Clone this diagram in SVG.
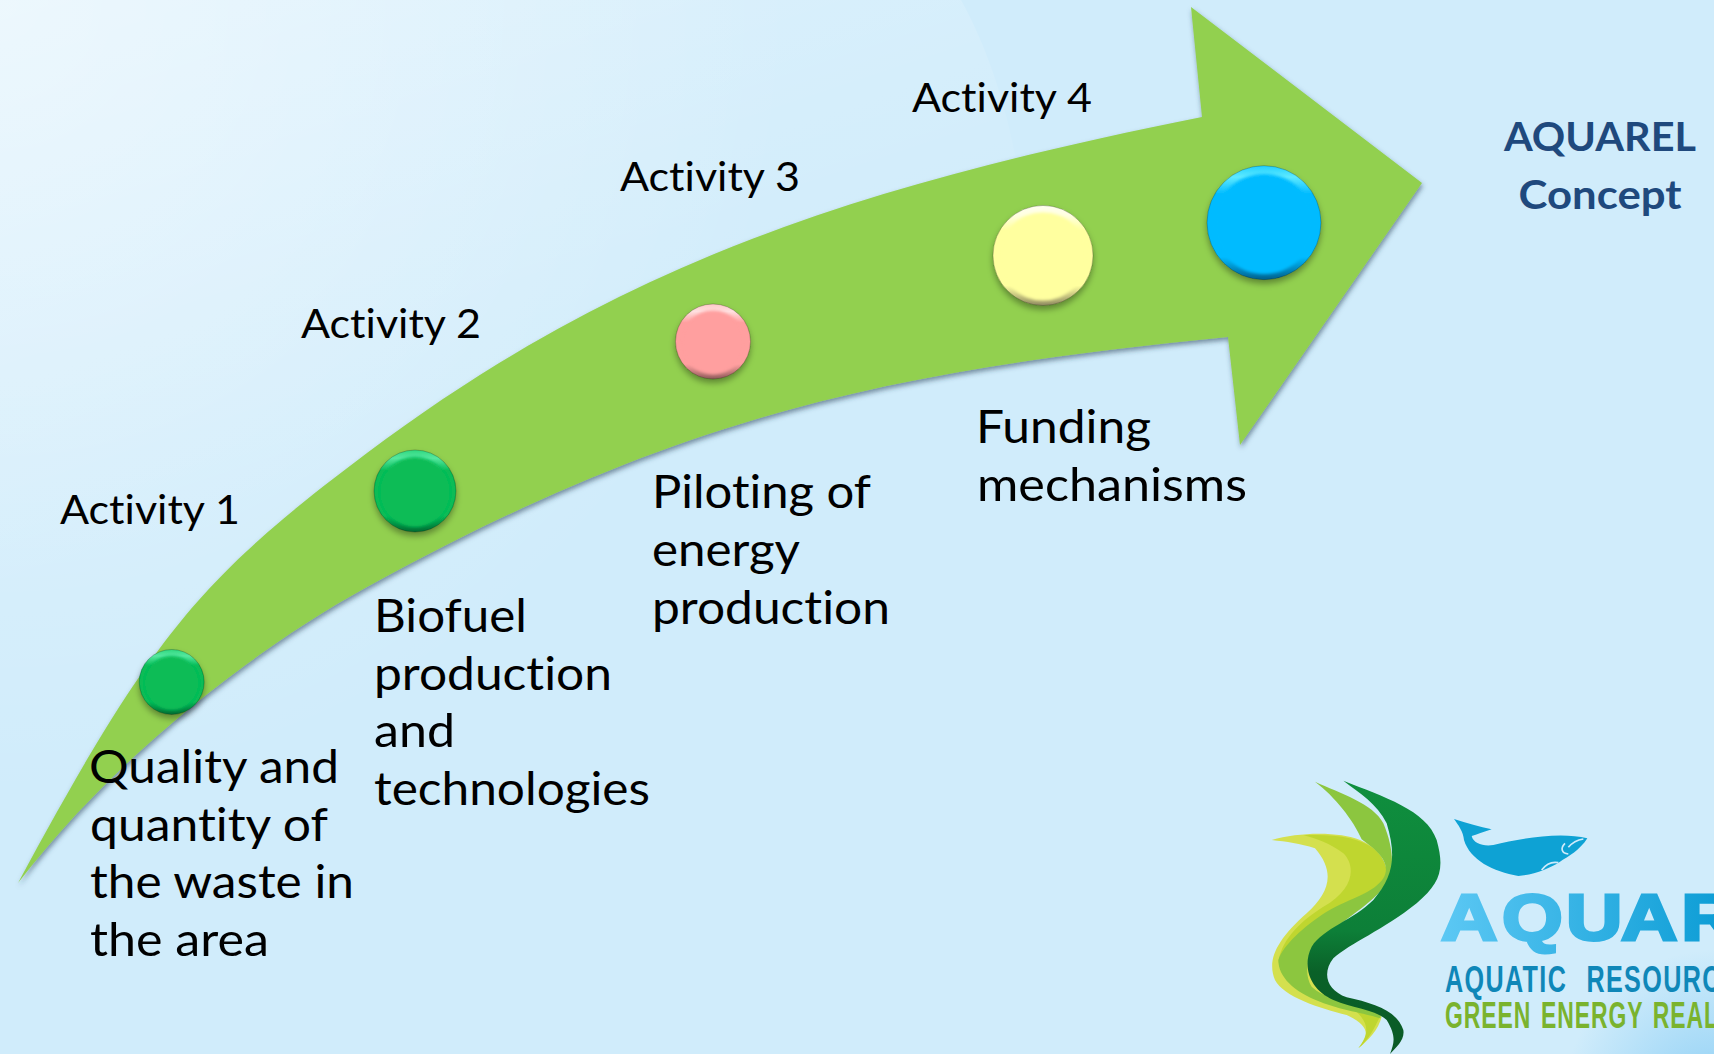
<svg xmlns="http://www.w3.org/2000/svg" width="1714" height="1054" viewBox="0 0 1714 1054">
<style>
.t{font-family:"Lato","Carlito","Liberation Sans",sans-serif;fill:#000;font-variant-ligatures:none}
.big{font-size:46px}
.act{font-size:40.5px}
.head{font-family:"Lato","Liberation Sans",sans-serif;font-weight:700;font-size:41px;fill:#1f497d;text-anchor:middle}
.rim{stroke:#000;stroke-opacity:.22;stroke-width:1}
.logo-t{font-family:"Liberation Sans",sans-serif;font-weight:700}
</style>
<defs>
<linearGradient id="ov1" gradientUnits="userSpaceOnUse" x1="0" y1="0" x2="300" y2="900">
<stop offset="0" stop-color="#fff" stop-opacity=".3"/><stop offset=".6" stop-color="#fff" stop-opacity="0"/>
</linearGradient>
<radialGradient id="ov2" gradientUnits="userSpaceOnUse" cx="0" cy="0" r="800">
<stop offset="0" stop-color="#fff" stop-opacity=".45"/><stop offset="1" stop-color="#fff" stop-opacity="0"/>
</radialGradient>
<radialGradient id="ov3" gradientUnits="userSpaceOnUse" cx="1714" cy="1100" r="150">
<stop offset="0" stop-color="#8fd0f5"/><stop offset="1" stop-color="#8fd0f5" stop-opacity="0"/>
</radialGradient>
<filter id="sh" x="-5%" y="-5%" width="110%" height="110%"><feDropShadow dx="1" dy="3" stdDeviation="2.5" flood-color="#2a3f55" flood-opacity=".55"/></filter>
<filter id="csh" x="-30%" y="-30%" width="160%" height="160%"><feDropShadow dx="0" dy="4" stdDeviation="3" flood-color="#000" flood-opacity=".35"/></filter>
<filter id="soft" x="-20%" y="-20%" width="140%" height="140%"><feGaussianBlur stdDeviation="1.6"/></filter>
<linearGradient id="rg" x1="0" y1="0" x2="0" y2="1"><stop offset="0" stop-color="#2fd87f"/><stop offset=".1" stop-color="#55e8a0"/><stop offset=".25" stop-color="#07bc57"/><stop offset=".8" stop-color="#07bc57"/><stop offset="1" stop-color="#046b32"/></linearGradient>
<linearGradient id="rp" x1="0" y1="0" x2="0" y2="1"><stop offset="0" stop-color="#ffc8c8"/><stop offset=".1" stop-color="#ffe0e0"/><stop offset=".25" stop-color="#ff9f9f"/><stop offset=".8" stop-color="#ff9f9f"/><stop offset="1" stop-color="#8f5a5a"/></linearGradient>
<linearGradient id="ry" x1="0" y1="0" x2="0" y2="1"><stop offset="0" stop-color="#fffff0"/><stop offset=".1" stop-color="#ffffe0"/><stop offset=".25" stop-color="#ffff9f"/><stop offset=".8" stop-color="#ffff9f"/><stop offset="1" stop-color="#8f8a60"/></linearGradient>
<linearGradient id="rb" x1="0" y1="0" x2="0" y2="1"><stop offset="0" stop-color="#20d0ff"/><stop offset=".1" stop-color="#5feaff"/><stop offset=".25" stop-color="#00bbff"/><stop offset=".8" stop-color="#00bbff"/><stop offset="1" stop-color="#00608c"/></linearGradient>
<linearGradient id="aq" gradientUnits="userSpaceOnUse" x1="0" y1="0" x2="224" y2="0"><stop offset="0" stop-color="#5cc8f4"/><stop offset="1" stop-color="#0f9ed6"/></linearGradient>
<linearGradient id="lf" x1="0" y1="0" x2="0" y2="1"><stop offset="0" stop-color="#0f8f3e"/><stop offset=".55" stop-color="#0d7f38"/><stop offset=".7" stop-color="#0a6128"/><stop offset="1" stop-color="#0a5a26"/></linearGradient>
</defs>
<g id="background">
<rect width="1714" height="1054" fill="#d0ecfb"/>
<path d="M0,0H961C1000,70 1032,180 1030,330C1030,600 600,900 0,900Z" fill="url(#ov1)"/>
<rect width="1714" height="1054" fill="url(#ov2)"/>
<rect x="1500" y="900" width="214" height="154" fill="url(#ov3)"/>
</g>
<g id="connectors">
<path id="arrow" filter="url(#sh)" fill="#92d050" d="M18,883C153,633 202,577 367,453C617,265.5 852,187 1202,117L1191,7L1422,183L1240,445L1228,337C898,370 687,411 367,587C257,647.5 118,753 18,883Z"/>
</g>
<g id="dot1" filter="url(#csh)"><circle class="rim" cx="171.7" cy="682" r="32.5" fill="url(#rg)"/><circle cx="171.7" cy="683" r="27" fill="#07bc57" filter="url(#soft)"/></g>
<g id="dot2" filter="url(#csh)"><circle class="rim" cx="415" cy="491" r="41" fill="url(#rg)"/><circle cx="415" cy="492" r="35" fill="#07bc57" filter="url(#soft)"/></g>
<g id="dot3" filter="url(#csh)"><circle class="rim" cx="713" cy="341.5" r="37.5" fill="url(#rp)"/><circle cx="713" cy="342.5" r="32" fill="#ff9f9f" filter="url(#soft)"/></g>
<g id="dot4" filter="url(#csh)"><circle class="rim" cx="1043" cy="255.5" r="50" fill="url(#ry)"/><circle cx="1043" cy="256.5" r="44" fill="#ffff9f" filter="url(#soft)"/></g>
<g id="dot5" filter="url(#csh)"><circle class="rim" cx="1264" cy="222.7" r="57" fill="url(#rb)"/><circle cx="1264" cy="224" r="50" fill="#00bbff" filter="url(#soft)"/></g>
<g id="activity1"><text class="t act" x="60" y="524" textLength="180" lengthAdjust="spacingAndGlyphs">Activity 1</text></g>
<g id="activity2"><text class="t act" x="301" y="338" textLength="180" lengthAdjust="spacingAndGlyphs">Activity 2</text></g>
<g id="activity3"><text class="t act" x="620" y="191" textLength="180" lengthAdjust="spacingAndGlyphs">Activity 3</text></g>
<g id="activity4"><text class="t act" x="912" y="112" textLength="180" lengthAdjust="spacingAndGlyphs">Activity 4</text></g>
<g id="label1">
<text class="t big" x="89" y="783" textLength="250" lengthAdjust="spacingAndGlyphs">Quality and</text>
<text class="t big" x="90" y="841" textLength="238" lengthAdjust="spacingAndGlyphs">quantity of</text>
<text class="t big" x="90" y="898" textLength="264" lengthAdjust="spacingAndGlyphs">the waste in</text>
<text class="t big" x="90" y="956" textLength="179" lengthAdjust="spacingAndGlyphs">the area</text>
</g>
<g id="label2">
<text class="t big" x="374" y="632" textLength="153" lengthAdjust="spacingAndGlyphs">Biofuel</text>
<text class="t big" x="374" y="690" textLength="238" lengthAdjust="spacingAndGlyphs">production</text>
<text class="t big" x="374" y="747" textLength="81" lengthAdjust="spacingAndGlyphs">and</text>
<text class="t big" x="374" y="805" textLength="276" lengthAdjust="spacingAndGlyphs">technologies</text>
</g>
<g id="label3">
<text class="t big" x="652" y="508" textLength="219" lengthAdjust="spacingAndGlyphs">Piloting of</text>
<text class="t big" x="652" y="566" textLength="148" lengthAdjust="spacingAndGlyphs">energy</text>
<text class="t big" x="652" y="624" textLength="238" lengthAdjust="spacingAndGlyphs">production</text>
</g>
<g id="label4">
<text class="t big" x="976" y="443" textLength="175" lengthAdjust="spacingAndGlyphs">Funding</text>
<text class="t big" x="977" y="501" textLength="270" lengthAdjust="spacingAndGlyphs">mechanisms</text>
</g>
<g id="concept">
<text class="head" x="1600" y="151" textLength="192" lengthAdjust="spacingAndGlyphs">AQUAREL</text>
<text class="head" x="1600" y="209" textLength="163" lengthAdjust="spacingAndGlyphs">Concept</text>
</g>
<g id="logo">
<g transform="translate(1240,760) scale(.33333)">
<path fill="#d4e04e" d="M95,240C180,215 300,215 360,240C420,265 450,310 430,370C400,430 300,480 215,560C190,600 200,660 280,720C340,745 410,750 425,770C415,810 385,840 355,865C385,830 395,800 320,765C240,745 130,710 105,660C80,600 110,540 200,460C265,400 290,340 225,265C180,250 140,245 95,240Z"/>
<path fill="#bfd62f" d="M190,226C290,222 360,235 400,265C440,300 450,340 430,370C400,420 340,440 270,480C190,530 130,570 115,610C120,550 170,490 250,440C340,390 350,320 310,280C270,250 230,235 190,226ZM420,770C400,810 385,840 355,865C380,830 395,800 350,755Z"/>
<path fill="#8cc63f" d="M225,65C300,100 400,130 430,190C460,260 465,330 440,370C400,430 310,480 240,540C200,580 190,640 215,680C245,710 330,735 400,745C420,755 425,770 420,775C380,760 300,750 240,725C160,695 115,650 115,600C130,555 190,500 260,455C340,410 400,400 430,355C445,330 440,300 400,265L365,238C340,180 285,110 225,65Z"/>
<path fill="url(#lf)" d="M310,62C430,110 560,150 590,240C615,330 600,370 530,430C430,510 330,550 280,595C245,640 260,690 320,712C400,730 470,750 490,810C495,840 470,860 450,882C462,850 470,830 440,780C410,750 340,745 280,720C210,690 185,620 215,560C250,505 340,480 400,420C460,350 470,290 440,190C410,130 360,100 310,62Z"/>
<path fill="#0ea2d4" d="M642,177C680,190 720,200 755,208C730,215 710,225 695,228C700,250 730,260 760,255C840,235 960,215 1042,235C1020,270 985,290 960,305C930,325 880,345 835,348C760,335 690,300 672,240C670,215 655,195 642,177Z"/>
<path fill="none" stroke="#cfebfb" stroke-width="5" d="M975,250C960,265 965,280 985,282M1030,237C1010,240 995,250 985,262M905,330C920,310 940,305 955,308"/>
</g>
<text class="logo-t" transform="translate(1441,940) scale(1.22,1)" x="0 50 102.5 147.5 197" y="0" font-size="64" fill="url(#aq)" stroke="url(#aq)" stroke-width="3">AQUAR</text>
<text class="logo-t" transform="translate(1445,992) scale(.68,1)" x="0" y="0" font-size="37" letter-spacing="2" word-spacing="16" fill="#0f87b8">AQUATIC RESOURC</text>
<text class="logo-t" transform="translate(1445,1028) scale(.62,1)" x="0" y="0" font-size="37" letter-spacing="1.5" word-spacing="4" fill="#7ab32e">GREEN ENERGY REAL</text>
</g>
</svg>
